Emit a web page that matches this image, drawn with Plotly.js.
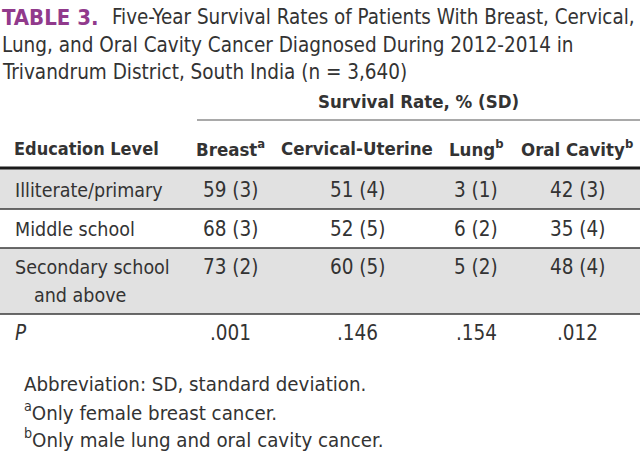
<!DOCTYPE html>
<html>
<head>
<meta charset="utf-8">
<script src="https://cdn.plot.ly/plotly-3.0.1.min.js"></script>
<style>
html,body{margin:0;padding:0;background:#fff;}
#chart{width:640px;height:459px;}
</style>
</head>
<body>
<div id="chart"></div>
<script>
// ---- data ----
const titleLabel = 'TABLE 3.';
const titleLines = [
  'Five-Year Survival Rates of Patients With Breast, Cervical,',
  'Lung, and Oral Cavity Cancer Diagnosed During 2012-2014 in',
  'Trivandrum District, South India (n = 3,640)'
];
const spannerLabel = 'Survival Rate, % (SD)';
const rowHeader = 'Education Level';
const columns = ['Breast<sup>a</sup>', 'Cervical-Uterine', 'Lung<sup>b</sup>', 'Oral Cavity<sup>b</sup>'];
const educationLevels = ['Illiterate/primary', 'Middle school', 'Secondary school'];
const educationLevelsCont = ['', '', 'and above'];
const breastRate = [59, 68, 73];
const breastSD = [3, 3, 2];
const cervicalRate = [51, 52, 60];
const cervicalSD = [4, 5, 5];
const lungRate = [3, 6, 5];
const lungSD = [1, 2, 2];
const oralRate = [42, 35, 48];
const oralSD = [3, 4, 4];
const pLabel = '<i>P</i>';
const pValues = ['.001', '.146', '.154', '.012'];
const footnotes = [
  'Abbreviation: SD, standard deviation.',
  '<sup>a</sup>Only female breast cancer.',
  '<sup>b</sup>Only male lung and oral cavity cancer.'
];

// ---- layout constants ----
const FONT = '"DejaVu Sans Condensed", "Liberation Sans Narrow", sans-serif';
const TXT = '#333333';
const colX = [230, 357, 476, 577];
const rowY = [190, 229, 267];
const rowY2 = 295;
const pY = 333;
const rowBands = [[169, 209, '#e1e1e1'], [209, 248, '#ffffff'], [248, 314, '#e1e1e1']];
const sepLines = [209, 248, 314];

const rates = [breastRate, cervicalRate, lungRate, oralRate];
const sds = [breastSD, cervicalSD, lungSD, oralSD];

const ann = [];
function add(x, y, text, size, opts) {
  ann.push(Object.assign({
    x: x, y: y, xref: 'x', yref: 'y', text: text, showarrow: false,
    xanchor: 'left', yanchor: 'middle',
    font: {family: FONT, size: size, color: TXT}
  }, opts || {}));
}

// title
add(0, 17, '<b>' + titleLabel + '</b>', 22, {font: {family: FONT, size: 22, color: '#913a8c'}});
add(110, 17, titleLines[0], 20.4);
add(0, 45, titleLines[1], 20.5);
add(0, 72, titleLines[2], 20.5);

// spanner
add(418, 101, '<b>' + spannerLabel + '</b>', 18.5, {xanchor: 'center'});
// headers
add(12, 148, '<b>' + rowHeader + '</b>', 18);
columns.forEach((c, j) => add(colX[j], 148, '<b>' + c + '</b>', 18.5, {xanchor: 'center'}));

// body
educationLevels.forEach((lvl, i) => {
  add(13, rowY[i], lvl, 19.5);
  if (educationLevelsCont[i]) add(32, rowY2, educationLevelsCont[i], 19.5);
  rates.forEach((r, j) => add(colX[j], rowY[i], r[i] + ' (' + sds[j][i] + ')', 20.5, {xanchor: 'center'}));
});
add(13, pY, pLabel, 20.5);
pValues.forEach((p, j) => add(colX[j], pY, p, 20.5, {xanchor: 'center'}));

// footnotes
[384, 411, 438].forEach((y, k) => add(22, y, footnotes[k], 20.3));

const shapes = [];
rowBands.forEach(b => shapes.push({type: 'rect', xref: 'x', yref: 'y', x0: 0, x1: 640, y0: b[0], y1: b[1], fillcolor: b[2], line: {width: 0}, layer: 'below'}));
shapes.push({type: 'line', xref: 'x', yref: 'y', x0: 197, x1: 640, y0: 120, y1: 120, line: {color: '#555', width: 1.2}});
shapes.push({type: 'line', xref: 'x', yref: 'y', x0: 0, x1: 640, y0: 168, y1: 168, line: {color: '#1a1a1a', width: 3.2}});
sepLines.forEach(y => shapes.push({type: 'line', xref: 'x', yref: 'y', x0: 0, x1: 640, y0: y, y1: y, line: {color: '#3a3a3a', width: 1.6}}));

Plotly.newPlot('chart', [{x: [], y: [], type: 'scatter', mode: 'markers', hoverinfo: 'skip', showlegend: false}], {
  width: 640, height: 459,
  margin: {l: 0, r: 0, t: 0, b: 0},
  paper_bgcolor: '#fff', plot_bgcolor: '#fff',
  xaxis: {range: [0, 640], visible: false, fixedrange: true},
  yaxis: {range: [459, 0], visible: false, fixedrange: true},
  showlegend: false,
  annotations: ann,
  shapes: shapes
}, {displayModeBar: false, staticPlot: true});
</script>
</body>
</html>
